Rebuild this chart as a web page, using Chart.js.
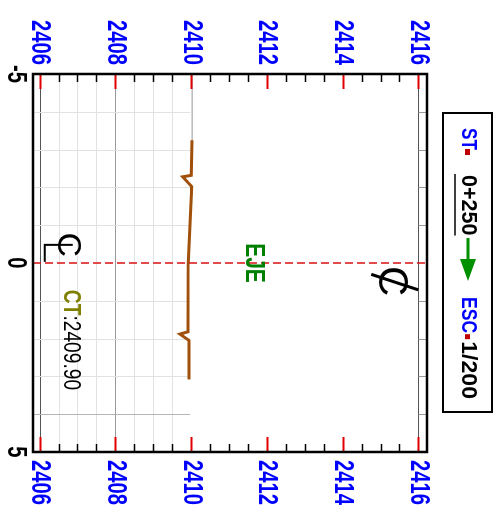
<!DOCTYPE html>
<html>
<head>
<meta charset="utf-8">
<script src="https://cdn.jsdelivr.net/npm/chart.js@4.4.1/dist/chart.umd.min.js"></script>
<style>
  html, body { margin: 0; padding: 0; background: #fff; overflow: hidden; }
  /* the section is drawn upright and then turned a quarter clockwise */
  #wrap { position: absolute; left: 0; top: 0; width: 512px; height: 501px;
          transform-origin: 0 0; transform: translate(501px, 0) rotate(90deg); }
</style>
</head>
<body>
<div id="wrap"><canvas id="section" width="512" height="501"></canvas></div>
<script>
// Ground profile (offset from axis, elevation)
var groundOffsets = [-3.25, -2.32, -2.28, -2.02, 0, 1.82, 1.88, 2.05, 3.08];
var groundElevs   = [2410.00, 2409.98, 2409.75, 2409.99, 2409.90, 2409.89, 2409.68, 2409.92, 2409.92];

// grey continuation of the 2410 level on the left side
var levelOffsets = [-5, -3.25];
var levelElevs   = [2410, 2410];

// axis (eje) line
var axisOffsets = [0, 0];
var axisElevs   = [2405.8, 2416.2];

// grid and ticks
var elevTicks   = [2406, 2408, 2410, 2412, 2414, 2416];
var elevGrid    = [2406, 2406.5, 2407, 2407.5, 2408, 2408.5, 2409, 2409.5];
var elevMarks   = [2406, 2406.5, 2407, 2407.5, 2408, 2408.5, 2409, 2409.5, 2410, 2410.5,
                   2411, 2411.5, 2412, 2412.5, 2413, 2413.5, 2414, 2414.5, 2415, 2415.5, 2416];
var offsetTicks = [-5, 0, 5];
var offsetGrid  = [-4, -3, -2, -1, 1, 2, 3, 4];

var ctElev = 2409.90;

var FONT = '"Liberation Sans", Arial, sans-serif';

function pts(xs, ys) {
    return xs.map(function (x, i) { return { x: x, y: ys[i] }; });
}

// narrow text: Liberation squeezed sideways
function txt(ctx, s, x, y, font, color, align, sx) {
    sx = sx || 0.81;
    ctx.save();
    ctx.font = font;
    ctx.fillStyle = color;
    ctx.textAlign = align || 'left';
    ctx.textBaseline = 'middle';
    ctx.translate(x, y);
    ctx.scale(sx, 1);
    ctx.fillText(s, 0, 0);
    var w = ctx.measureText(s).width * sx;
    ctx.restore();
    return w;
}

var sectionPlugin = {
    id: 'section',
    beforeDatasetsDraw: function (chart) {
        var ctx = chart.ctx, xs = chart.scales.x, ys = chart.scales.y, a = chart.chartArea;
        ctx.save();
        // elevation grid (only below ground)
        elevGrid.forEach(function (e) {
            var py = Math.round(ys.getPixelForValue(e)) + 0.5;
            ctx.strokeStyle = e === 2406 ? '#555' : (e === 2408 ? '#999' : '#e2e2e2');
            ctx.lineWidth = 1;
            ctx.beginPath(); ctx.moveTo(a.left, py); ctx.lineTo(a.right, py); ctx.stroke();
        });
        var top = Math.round(ys.getPixelForValue(2416)) + 0.5;
        ctx.strokeStyle = '#555';
        ctx.beginPath(); ctx.moveTo(a.left, top); ctx.lineTo(a.right, top); ctx.stroke();
        // offset grid
        offsetGrid.forEach(function (o) {
            var px = Math.round(xs.getPixelForValue(o)) + 0.5;
            ctx.strokeStyle = o === 4 ? '#b5b5b5' : '#e2e2e2';
            ctx.beginPath(); ctx.moveTo(px, a.bottom); ctx.lineTo(px, ys.getPixelForValue(2409.95)); ctx.stroke();
            ctx.strokeStyle = '#999';
            ctx.beginPath(); ctx.moveTo(px, a.top); ctx.lineTo(px, top); ctx.stroke();
        });
        ctx.restore();
    },
    afterDatasetsDraw: function (chart) {
        var ctx = chart.ctx, xs = chart.scales.x, ys = chart.scales.y, a = chart.chartArea;
        ctx.save();
        // inward ticks on both sides
        elevMarks.forEach(function (e) {
            var py = Math.round(ys.getPixelForValue(e)) + 0.5;
            var major = elevTicks.indexOf(e) >= 0;
            ctx.strokeStyle = major ? '#e00000' : '#000';
            ctx.lineWidth = major ? 2 : 1.5;
            var len = major ? 15 : 8;
            ctx.beginPath();
            ctx.moveTo(a.left, py); ctx.lineTo(a.left + len, py);
            ctx.moveTo(a.right, py); ctx.lineTo(a.right - len, py);
            ctx.stroke();
        });
        // frame
        ctx.strokeStyle = '#000';
        ctx.lineWidth = 2.5;
        ctx.strokeRect(a.left, a.top, a.right - a.left, a.bottom - a.top);

        // tick labels
        var tf = 'bold 27px ' + FONT;
        elevTicks.forEach(function (e) {
            var py = ys.getPixelForValue(e) + 1;
            txt(ctx, String(e), a.left - 9, py, tf, '#0000ff', 'right', 0.75);
            txt(ctx, String(e), a.right + 8, py, tf, '#0000ff', 'left', 0.75);
        });
        offsetTicks.forEach(function (o) {
            txt(ctx, String(o), xs.getPixelForValue(o), 486, tf, '#000', 'center', 0.75);
        });

        // EJE label
        txt(ctx, 'EJE', xs.getPixelForValue(0), ys.getPixelForValue(2411.65) + 1, 'bold 28px ' + FONT, '#008000', 'center', 0.75);

        // crossed C symbol at the top
        ctx.fillStyle = '#000';
        ctx.textAlign = 'center';
        ctx.textBaseline = 'middle';
        ctx.font = '42px ' + FONT;
        ctx.fillText('C', xs.getPixelForValue(0.48), ys.getPixelForValue(2415.28) + 2);
        ctx.strokeStyle = '#000';
        ctx.lineWidth = 3;
        ctx.beginPath();
        ctx.moveTo(xs.getPixelForValue(0.30), ys.getPixelForValue(2414.73));
        ctx.lineTo(xs.getPixelForValue(0.71), ys.getPixelForValue(2415.97));
        ctx.stroke();

        // centre line symbol at the bottom
        ctx.font = '34px ' + FONT;
        ctx.fillText('C', xs.getPixelForValue(-0.48), ys.getPixelForValue(2406.77) + 2);
        ctx.lineWidth = 2;
        ctx.beginPath();
        ctx.moveTo(xs.getPixelForValue(-0.48), ys.getPixelForValue(2406.85));
        ctx.lineTo(xs.getPixelForValue(-0.48), ys.getPixelForValue(2406.11));
        ctx.lineTo(xs.getPixelForValue(-0.03), ys.getPixelForValue(2406.11));
        ctx.stroke();

        // CT label
        var cx = xs.getPixelForValue(0.71), cy = ys.getPixelForValue(2406.8);
        var w = txt(ctx, 'CT', cx, cy, 'bold 24px ' + FONT, '#808000', 'left', 0.8);
        txt(ctx, ':' + ctElev.toFixed(2), cx + w, cy, '24px ' + FONT, '#000', 'left', 0.8);

        // header box
        var bx = 113, by = 9, bw = 299, bh = 49, ty = 33;
        var hf = 'bold 22px ' + FONT;
        ctx.lineWidth = 2;
        ctx.strokeStyle = '#000';
        ctx.strokeRect(bx, by, bw, bh);
        txt(ctx, 'ST', bx + 15, ty, hf, '#0000ff', 'left', 0.78);
        ctx.fillStyle = '#c00000';
        ctx.fillRect(bx + 36, ty - 2, 6, 5);
        var uw = txt(ctx, '0+250', bx + 62, ty, hf, '#000', 'left', 0.98);
        ctx.strokeStyle = '#000';
        ctx.lineWidth = 1.5;
        ctx.beginPath(); ctx.moveTo(bx + 61, ty + 13); ctx.lineTo(bx + 62 + uw, ty + 13); ctx.stroke();
        ctx.strokeStyle = '#009000';
        ctx.lineWidth = 3;
        ctx.beginPath(); ctx.moveTo(bx + 125, ty); ctx.lineTo(bx + 146, ty); ctx.stroke();
        ctx.fillStyle = '#009000';
        ctx.beginPath(); ctx.moveTo(bx + 146, ty - 8); ctx.lineTo(bx + 168, ty); ctx.lineTo(bx + 146, ty + 8); ctx.closePath(); ctx.fill();
        var ew = txt(ctx, 'ESC', bx + 184, ty, hf, '#0000ff', 'left', 0.8);
        ctx.fillStyle = '#c00000';
        ctx.fillRect(bx + 185 + ew, ty - 2, 5, 5);
        txt(ctx, '1/200', bx + 192 + ew, ty, hf, '#000', 'left', 1.05);
        ctx.restore();
    }
};

var sectionChart = new Chart(document.getElementById('section').getContext('2d'), {
    type: 'scatter',
    data: {
        datasets: [{
            label: 'level',
            data: pts(levelOffsets, levelElevs),
            showLine: true,
            borderColor: '#999',
            borderWidth: 1,
            pointRadius: 0
        }, {
            label: 'eje',
            data: pts(axisOffsets, axisElevs),
            showLine: true,
            borderColor: '#d81010',
            borderWidth: 1.5,
            borderDash: [8, 4],
            pointRadius: 0
        }, {
            label: 'terreno',
            data: pts(groundOffsets, groundElevs),
            showLine: true,
            borderColor: '#a0500a',
            borderWidth: 3,
            pointRadius: 0
        }]
    },
    options: {
        responsive: false,
        animation: false,
        layout: { padding: { top: 74, left: 0, right: 0, bottom: 0 } },
        plugins: { legend: { display: false }, tooltip: { enabled: false } },
        scales: {
            x: {
                type: 'linear', min: -5, max: 5, position: 'bottom',
                ticks: { display: false, stepSize: 5 },
                grid: { display: false, drawTicks: false },
                border: { display: false },
                afterFit: function (s) { s.height = 33; }
            },
            y: {
                type: 'linear', min: 2405.8, max: 2416.2, position: 'left',
                ticks: { display: false, stepSize: 2 },
                grid: { display: false, drawTicks: false },
                border: { display: false },
                afterFit: function (s) { s.width = 74; }
            },
            y2: {
                type: 'linear', min: 2405.8, max: 2416.2, position: 'right',
                ticks: { display: false, stepSize: 2 },
                grid: { display: false, drawTicks: false },
                border: { display: false },
                afterFit: function (s) { s.width = 60; }
            }
        }
    },
    plugins: [sectionPlugin]
});
</script>
</body>
</html>
